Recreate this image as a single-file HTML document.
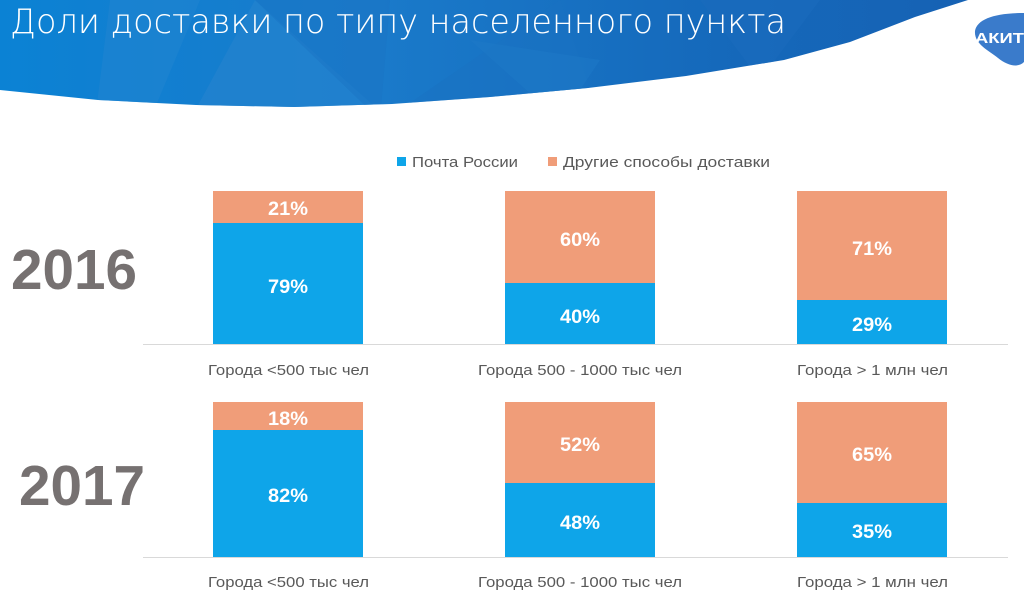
<!DOCTYPE html>
<html><head><meta charset="utf-8"><style>
html,body{margin:0;padding:0;background:#fff;width:1024px;height:600px;overflow:hidden}
svg{display:block}
text{font-family:"Liberation Sans","Noto Sans CJK SC",sans-serif}
</style></head><body>
<svg width="1024" height="600" viewBox="0 0 1024 600" xmlns="http://www.w3.org/2000/svg">
<defs>
<linearGradient id="bg" x1="0" y1="0" x2="1" y2="0">
<stop offset="0" stop-color="#0b82d4"/>
<stop offset="0.35" stop-color="#1a7bcb"/>
<stop offset="0.7" stop-color="#1569bb"/>
<stop offset="1" stop-color="#1660b2"/>
</linearGradient>
<clipPath id="bc"><path d="M0,0 H968 L915,17 L850,42 L784,60 L686,76 L588,88 L490,97 L392,104 L294,107 L196,105 L98,100 L0,90 Z"/></clipPath>
</defs>
<g clip-path="url(#bc)">
<rect x="0" y="0" width="1024" height="120" fill="url(#bg)"/>
<polygon points="110,0 200,0 150,120 95,120" fill="#1f84d0" opacity="0.6"/>
<polygon points="190,120 255,0 390,120" fill="#2383cf" opacity="0.7"/>
<polygon points="255,0 380,120 390,0" fill="#1a74c4" opacity="0.5"/>
<polygon points="385,120 560,0 600,120" fill="#1a72c2" opacity="0.5"/>
<polygon points="470,40 560,120 600,60" fill="#1d7ac8" opacity="0.5"/>
<polygon points="700,0 820,0 760,80" fill="#1b6cbd" opacity="0.5"/>
</g>
<path d="M975,31 C977,19 995,13 1024,13 L1024,62 C1018,68 1008,66 998,58 C988,50 974,44 975,31 Z" fill="#3a7bcb"/>
<text x="975" y="43" font-size="15" font-weight="bold" fill="#fff" textLength="49" lengthAdjust="spacingAndGlyphs">АКИТ</text>
<text x="10" y="33" font-size="34" font-weight="200" fill="#fff" textLength="776" lengthAdjust="spacingAndGlyphs" style="font-family:'DejaVu Sans','Liberation Sans',sans-serif">Доли доставки по типу населенного пункта</text>

<!-- legend -->
<rect x="397" y="157" width="9" height="9" fill="#0ea5e9"/>
<text x="412" y="167" font-size="15" fill="#595959" textLength="106" lengthAdjust="spacingAndGlyphs">Почта России</text>
<rect x="548" y="157" width="9" height="9" fill="#f09d79"/>
<text x="563" y="167" font-size="15" fill="#595959" textLength="207" lengthAdjust="spacingAndGlyphs">Другие способы доставки</text>

<!-- years -->
<text x="11" y="289" font-size="57" font-weight="bold" fill="#767171" textLength="126" lengthAdjust="spacingAndGlyphs">2016</text>
<text x="19" y="505" font-size="57" font-weight="bold" fill="#767171" textLength="126" lengthAdjust="spacingAndGlyphs">2017</text>

<!-- 2016 chart -->
<line x1="143" y1="344.5" x2="1008" y2="344.5" stroke="#d9d9d9" stroke-width="1"/>
<rect x="213" y="191" width="150" height="32" fill="#f09d79"/>
<rect x="213" y="223" width="150" height="121" fill="#0ea5e9"/>
<rect x="505" y="191" width="150" height="92" fill="#f09d79"/>
<rect x="505" y="283" width="150" height="61" fill="#0ea5e9"/>
<rect x="797" y="191" width="150" height="109" fill="#f09d79"/>
<rect x="797" y="300" width="150" height="44" fill="#0ea5e9"/>
<g font-size="19" font-weight="bold" fill="#fff" text-anchor="middle">
<text x="288" y="215" textLength="40" lengthAdjust="spacingAndGlyphs">21%</text>
<text x="288" y="293" textLength="40" lengthAdjust="spacingAndGlyphs">79%</text>
<text x="580" y="246" textLength="40" lengthAdjust="spacingAndGlyphs">60%</text>
<text x="580" y="323" textLength="40" lengthAdjust="spacingAndGlyphs">40%</text>
<text x="872" y="255" textLength="40" lengthAdjust="spacingAndGlyphs">71%</text>
<text x="872" y="331" textLength="40" lengthAdjust="spacingAndGlyphs">29%</text>
</g>
<g font-size="15" fill="#595959" text-anchor="middle">
<text x="288.5" y="375" textLength="161" lengthAdjust="spacingAndGlyphs">Города &lt;500 тыс чел</text>
<text x="580" y="375" textLength="204" lengthAdjust="spacingAndGlyphs">Города 500 - 1000 тыс чел</text>
<text x="872.5" y="375" textLength="151" lengthAdjust="spacingAndGlyphs">Города &gt; 1 млн чел</text>
</g>

<!-- 2017 chart -->
<line x1="143" y1="557.5" x2="1008" y2="557.5" stroke="#d9d9d9" stroke-width="1"/>
<rect x="213" y="402" width="150" height="28" fill="#f09d79"/>
<rect x="213" y="430" width="150" height="127" fill="#0ea5e9"/>
<rect x="505" y="402" width="150" height="81" fill="#f09d79"/>
<rect x="505" y="483" width="150" height="74" fill="#0ea5e9"/>
<rect x="797" y="402" width="150" height="101" fill="#f09d79"/>
<rect x="797" y="503" width="150" height="54" fill="#0ea5e9"/>
<g font-size="19" font-weight="bold" fill="#fff" text-anchor="middle">
<text x="288" y="425" textLength="40" lengthAdjust="spacingAndGlyphs">18%</text>
<text x="288" y="502" textLength="40" lengthAdjust="spacingAndGlyphs">82%</text>
<text x="580" y="451" textLength="40" lengthAdjust="spacingAndGlyphs">52%</text>
<text x="580" y="529" textLength="40" lengthAdjust="spacingAndGlyphs">48%</text>
<text x="872" y="461" textLength="40" lengthAdjust="spacingAndGlyphs">65%</text>
<text x="872" y="538" textLength="40" lengthAdjust="spacingAndGlyphs">35%</text>
</g>
<g font-size="15" fill="#595959" text-anchor="middle">
<text x="288.5" y="587" textLength="161" lengthAdjust="spacingAndGlyphs">Города &lt;500 тыс чел</text>
<text x="580" y="587" textLength="204" lengthAdjust="spacingAndGlyphs">Города 500 - 1000 тыс чел</text>
<text x="872.5" y="587" textLength="151" lengthAdjust="spacingAndGlyphs">Города &gt; 1 млн чел</text>
</g>
</svg>
</body></html>
